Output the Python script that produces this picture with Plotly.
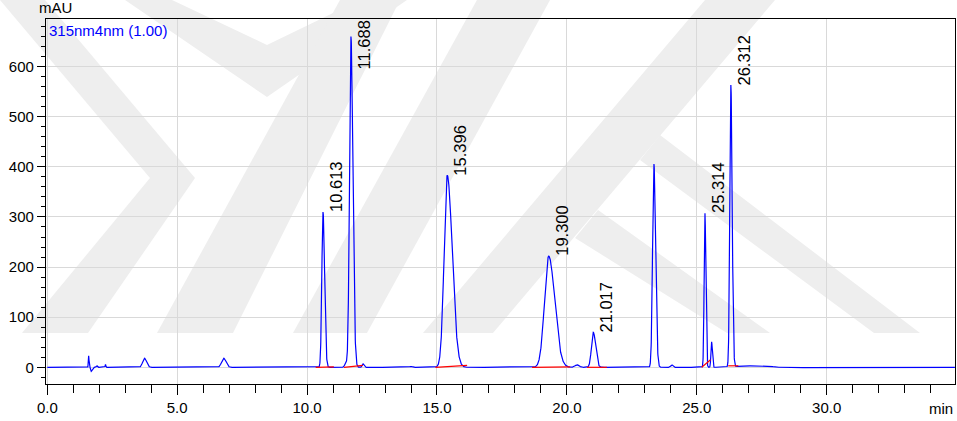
import numpy as np
import plotly.graph_objects as go

# ---------------- data ----------------
# peak table: retention time (min), height (mAU), left / right half-widths (sigma, min)
peak_rt = [1.59, 1.69, 1.91, 2.24, 3.74, 6.79, 10.613, 11.50, 11.688, 12.15, 14.00,
           15.396, 19.300, 20.39, 21.017, 23.35, 24.04, 25.314, 25.57, 26.312, 27.0, 27.8, 30.5]
peak_height = [23, -8, 3, 6, 18, 18, 310, 8, 660, 7, 2,
               383, 222, 5, 70, 406, 5, 308, 51, 562, 3, 2, -1]
peak_sigma_l = [0.012, 0.02, 0.02, 0.012, 0.07, 0.08, 0.045, 0.05, 0.055, 0.03, 0.05,
                0.12, 0.16, 0.08, 0.07, 0.05, 0.04, 0.03, 0.025, 0.04, 0.5, 0.1, 1.5]
peak_sigma_r = [0.015, 0.04, 0.02, 0.012, 0.08, 0.09, 0.06, 0.05, 0.075, 0.04, 0.05,
                0.19, 0.23, 0.08, 0.09, 0.065, 0.04, 0.035, 0.03, 0.05, 0.6, 0.1, 2.0]

# labelled peaks
label_text = ["10.613", "11.688", "15.396", "19.300", "21.017", "25.314", "26.312"]
label_rt = [10.613, 11.688, 15.396, 19.300, 21.017, 25.314, 26.312]
label_height = [310, 660, 383, 222, 70, 308, 562]

# integration baselines (start time, start mAU, end time, end mAU)
base_t0 = [10.33, 11.42, 14.94, 18.66, 20.77, 25.19, 26.21]
base_y0 = [0, 0, 0, 0, 0, 0, 3]
base_t1 = [11.03, 12.15, 16.16, 20.13, 21.54, 25.53, 26.60]
base_y1 = [1, 4, 4, 1, 0, 15, 3]

x_ticks = [0, 5, 10, 15, 20, 25, 30]
x_tick_text = ["0.0", "5.0", "10.0", "15.0", "20.0", "25.0", "30.0"]
y_ticks = [0, 100, 200, 300, 400, 500, 600]

X_RANGE = [-0.05, 34.94]
Y_RANGE = [-33.3, 695]

# background watermark outlines (page pixels)
watermark = [
    [(0, 0), (45, 0), (195, 178), (88, 333), (22, 333), (150, 178)],
    [(125, 0), (172, 0), (267, 45), (360, 0), (407, 0), (267, 97)],
    [(340, 0), (400, 0), (233, 333), (157, 333)],
    [(477, 0), (550, 0), (367, 333), (293, 333)],
    [(705, 0), (775, 0), (493, 333), (423, 333)],
    [(660, 135), (920, 333), (874, 333), (640, 160)],
    [(598, 210), (770, 333), (727, 333), (575, 238)],
]

# ---------------- build trace from the peak table ----------------
t = np.arange(0.0, 34.94, 0.004)
signal = np.zeros_like(t)
for rt, h, sl, sr in zip(peak_rt, peak_height, peak_sigma_l, peak_sigma_r):
    s = np.where(t < rt, sl, sr)
    signal += h * np.exp(-0.5 * ((t - rt) / s) ** 2)

bx, by = [], []
for a, ya, b, yb in zip(base_t0, base_y0, base_t1, base_y1):
    bx += [a, b, None]
    by += [ya, yb, None]

FONT = "Liberation Sans, Arial, sans-serif"
L, R, T, B = 46, 955, 19, 384

fig = go.Figure()
fig.add_trace(go.Scatter(x=t, y=signal, mode="lines",
                         line=dict(color="#0000ff", width=1.2), hoverinfo="skip"))
fig.add_trace(go.Scatter(x=bx, y=by, mode="lines",
                         line=dict(color="#ff0000", width=1.2), hoverinfo="skip"))

for poly in watermark:
    pts = [((px - L) / (R - L), (B - py) / (B - T)) for px, py in poly]
    path = "M " + " L ".join(f"{a:.4f},{b:.4f}" for a, b in pts) + " Z"
    fig.add_shape(type="path", path=path, xref="paper", yref="paper",
                  fillcolor="#eeeeee", line=dict(width=0), layer="below")

# peak labels (rotated)
px_per_unit = (B - T) / (Y_RANGE[1] - Y_RANGE[0])
for txt, rt, h in zip(label_text, label_rt, label_height):
    span = 50 / px_per_unit  # label length in data units
    if h + span > Y_RANGE[1]:
        fig.add_annotation(x=rt, y=1, xref="x", yref="paper", text=txt, textangle=-90,
                           showarrow=False, xanchor="left", yanchor="top", xshift=2, yshift=1,
                           font=dict(family=FONT, size=16.5, color="black"))
    else:
        fig.add_annotation(x=rt, y=h, xref="x", yref="y", text=txt, textangle=-90,
                           showarrow=False, xanchor="left", yanchor="bottom", xshift=2, yshift=-2,
                           font=dict(family=FONT, size=16.5, color="black"))

fig.add_annotation(x=-9 / 909, y=1, xref="paper", yref="paper", text="mAU", showarrow=False,
                   xanchor="left", yanchor="bottom", yshift=1,
                   font=dict(family=FONT, size=15, color="black"))
fig.add_annotation(x=0.001, y=1, xref="paper", yref="paper", text="315nm4nm (1.00)", showarrow=False,
                   xanchor="left", yanchor="top", yshift=-1,
                   font=dict(family=FONT, size=15, color="#0000ff"))
fig.add_annotation(x=1, y=0, xref="paper", yref="paper", text="min", showarrow=False,
                   xanchor="right", yanchor="top", yshift=-14,
                   font=dict(family=FONT, size=15, color="black"))

fig.update_xaxes(range=X_RANGE, tickvals=x_ticks, ticktext=x_tick_text,
                 showline=True, linecolor="black", linewidth=1.3, mirror=True,
                 ticks="outside", ticklen=10, tickcolor="black", tickwidth=1,
                 minor=dict(dtick=1, ticks="outside", ticklen=8, tickcolor="black", showgrid=False),
                 showgrid=True, gridcolor="#d9d9d9", gridwidth=1, zeroline=False,
                 tickfont=dict(family=FONT, size=15, color="black"))
fig.update_yaxes(range=Y_RANGE, tickvals=y_ticks,
                 showline=True, linecolor="black", linewidth=1.3, mirror=True,
                 ticks="outside", ticklen=8, tickcolor="black", tickwidth=1,
                 minor=dict(dtick=20, ticks="outside", ticklen=4, tickcolor="black", showgrid=False),
                 showgrid=True, gridcolor="#d9d9d9", gridwidth=1, zeroline=False,
                 tickfont=dict(family=FONT, size=15, color="black"))

fig.update_layout(width=957, height=421, margin=dict(l=L, r=957 - R, t=T, b=421 - B),
                  paper_bgcolor="white", plot_bgcolor="rgba(0,0,0,0)",
                  showlegend=False, font=dict(family=FONT))

fig.write_html("out.html", config={"displayModeBar": False},
               post_script="document.body.style.margin='0';document.body.style.overflow='hidden';")
